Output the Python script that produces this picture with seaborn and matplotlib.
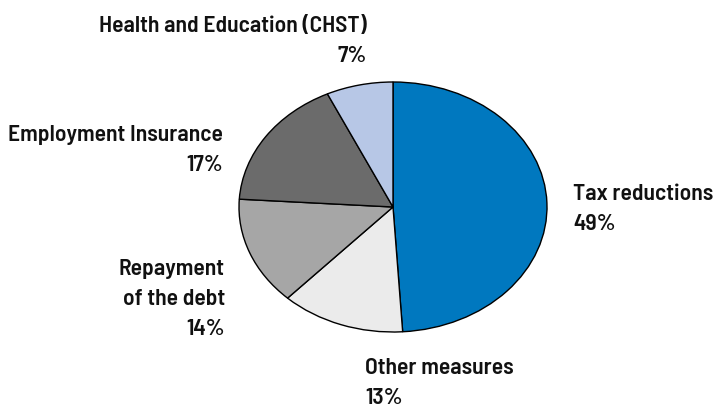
import matplotlib
matplotlib.use("Agg")
import matplotlib.pyplot as plt
import seaborn as sns

categories = ["Tax reductions", "Other measures", "Repayment\nof the debt",
              "Employment Insurance", "Health and Education (CHST)"]
shares = [49, 13, 14, 17, 7]
colors = ["#0078BF", "#EBEBEB", "#A6A6A6", "#6B6B6B", "#B7C7E6"]

sns.set_theme(style="white")
plt.rcParams["font.family"] = ["Barlow Semi Condensed", "DejaVu Sans"]

W, H = 715, 409
fig = plt.figure(figsize=(W / 100, H / 100), dpi=100)
ax = fig.add_axes([0, 0, 1, 1])

cx, cy, rx, ry = 393, 207, 154, 125
ax.pie(shares, colors=colors, startangle=90, counterclock=False,
       wedgeprops=dict(edgecolor="black", linewidth=1.0))
ax.set_aspect("auto")
ax.set_xlim(-cx / rx, (W - cx) / rx)
ax.set_ylim(-(H - cy) / ry, cy / ry)
ax.axis("off")

def px(x, y):
    return (x - cx) / rx, (cy - y) / ry

# label anchors (pixel positions), alignment
anchors = [
    (573, 209, "left"),    # Tax reductions
    (365, 383, "left"),    # Other measures
    (225, 299, "right"),   # Repayment
    (223, 150, "right"),   # Employment Insurance
    (367, 41, "right"),    # Health and Education
]
fs = 17
for cat, val, (x, y, ha) in zip(categories, shares, anchors):
    xd, yd = px(x, y)
    ax.text(xd, yd, f"{cat}\n{val}%", ha=ha, va="center", multialignment=ha,
            fontsize=fs, fontweight="semibold", color="#111111", linespacing=1.6)

fig.savefig("out.png", dpi=100)
